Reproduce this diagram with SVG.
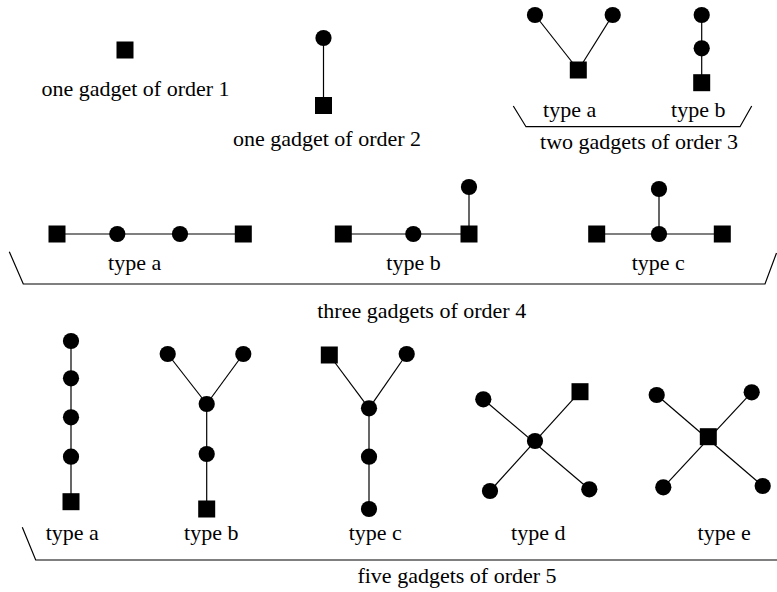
<svg xmlns="http://www.w3.org/2000/svg" width="777" height="592" viewBox="0 0 777 592">
<style>
.t{font-family:"Liberation Serif","Times New Roman",serif;font-size:22px;fill:#000;text-anchor:middle}
.e{stroke:#000;stroke-width:1.2;fill:none}
.c{fill:#000}
.s{fill:#000}
</style>
<defs>
<circle id="dot" r="8.1" class="c"/>
<rect id="sq" x="-8.5" y="-8.5" width="17" height="17" class="s"/>
</defs>
<rect width="777" height="592" fill="#fff"/>
<g id="connectors" class="e">
<line x1="323.5" y1="38" x2="323.5" y2="105.5"/>
<line x1="535" y1="15" x2="578.3" y2="70"/>
<line x1="612.7" y1="15" x2="578.3" y2="70"/>
<line x1="701.7" y1="15" x2="701.7" y2="82.7"/>
<line x1="57" y1="234" x2="243.3" y2="234"/>
<line x1="343.3" y1="234" x2="469" y2="234"/>
<line x1="469" y1="187" x2="469" y2="234"/>
<line x1="596.7" y1="234" x2="722.3" y2="234"/>
<line x1="659" y1="189" x2="659" y2="234"/>
<line x1="71" y1="341" x2="71" y2="501.7"/>
<line x1="167.7" y1="354" x2="206.7" y2="404"/>
<line x1="243.3" y1="354" x2="206.7" y2="404"/>
<line x1="206.7" y1="404" x2="206.7" y2="509"/>
<line x1="329.3" y1="355" x2="369" y2="408.3"/>
<line x1="406.7" y1="354" x2="369" y2="408.3"/>
<line x1="369" y1="408.3" x2="369" y2="509"/>
<line x1="483.3" y1="399.3" x2="589.3" y2="489.3"/>
<line x1="580" y1="391.7" x2="490" y2="491"/>
<line x1="656.7" y1="395" x2="762.7" y2="486"/>
<line x1="751.7" y1="392.3" x2="663.3" y2="487.3"/>
<polyline points="513.3,106 526,126.7 740,126.7 751.7,106"/>
<polyline points="9.3,251.7 23.3,284 765,284 776.5,253"/>
<polyline points="22.3,527.3 35.7,560 777,560"/>
</g>
<g id="order1">
<use href="#sq" x="125" y="50"/>
<text class="t" x="135.5" y="96">one gadget of order 1</text>
</g>
<g id="order2">
<use href="#dot" x="323.5" y="38"/>
<use href="#sq" x="323.5" y="105.5"/>
<text class="t" x="327" y="146">one gadget of order 2</text>
</g>
<g id="order3a">
<use href="#dot" x="535" y="15"/>
<use href="#dot" x="612.7" y="15"/>
<use href="#sq" x="578.3" y="70"/>
<text class="t" x="569.7" y="117">type a</text>
</g>
<g id="order3b">
<use href="#dot" x="701.7" y="15"/>
<use href="#dot" x="701.7" y="48.3"/>
<use href="#sq" x="701.7" y="82.7"/>
<text class="t" x="698.3" y="117">type b</text>
</g>
<text class="t" x="639" y="149">two gadgets of order 3</text>
<g id="order4a">
<use href="#sq" x="57" y="234"/>
<use href="#dot" x="117.3" y="234"/>
<use href="#dot" x="180" y="234"/>
<use href="#sq" x="243.3" y="234"/>
<text class="t" x="134.7" y="270">type a</text>
</g>
<g id="order4b">
<use href="#sq" x="343.3" y="234"/>
<use href="#dot" x="413.3" y="234"/>
<use href="#sq" x="469" y="234"/>
<use href="#dot" x="469" y="187"/>
<text class="t" x="413.5" y="270">type b</text>
</g>
<g id="order4c">
<use href="#sq" x="596.7" y="234"/>
<use href="#dot" x="659" y="234"/>
<use href="#sq" x="722.3" y="234"/>
<use href="#dot" x="659" y="189"/>
<text class="t" x="658.3" y="270">type c</text>
</g>
<text class="t" x="421.7" y="318">three gadgets of order 4</text>
<g id="order5a">
<use href="#dot" x="71" y="341"/>
<use href="#dot" x="71" y="378.3"/>
<use href="#dot" x="71" y="417.3"/>
<use href="#dot" x="71" y="456.7"/>
<use href="#sq" x="71" y="501.7"/>
<text class="t" x="72.3" y="540">type a</text>
</g>
<g id="order5b">
<use href="#dot" x="167.7" y="354"/>
<use href="#dot" x="243.3" y="354"/>
<use href="#dot" x="206.7" y="404"/>
<use href="#dot" x="206.7" y="454"/>
<use href="#sq" x="206.7" y="509"/>
<text class="t" x="211.3" y="540">type b</text>
</g>
<g id="order5c">
<use href="#sq" x="329.3" y="355"/>
<use href="#dot" x="406.7" y="354"/>
<use href="#dot" x="369" y="408.3"/>
<use href="#dot" x="369" y="456.7"/>
<use href="#dot" x="369" y="509"/>
<text class="t" x="375.3" y="540">type c</text>
</g>
<g id="order5d">
<use href="#dot" x="483.3" y="399.3"/>
<use href="#sq" x="580" y="391.7"/>
<use href="#dot" x="535" y="441"/>
<use href="#dot" x="490" y="491"/>
<use href="#dot" x="589.3" y="489.3"/>
<text class="t" x="538.3" y="540">type d</text>
</g>
<g id="order5e">
<use href="#dot" x="656.7" y="395"/>
<use href="#dot" x="751.7" y="392.3"/>
<use href="#sq" x="708.3" y="436.7"/>
<use href="#dot" x="663.3" y="487.3"/>
<use href="#dot" x="762.7" y="486"/>
<text class="t" x="724.2" y="540">type e</text>
</g>
<text class="t" x="457" y="583">five gadgets of order 5</text>
</svg>
